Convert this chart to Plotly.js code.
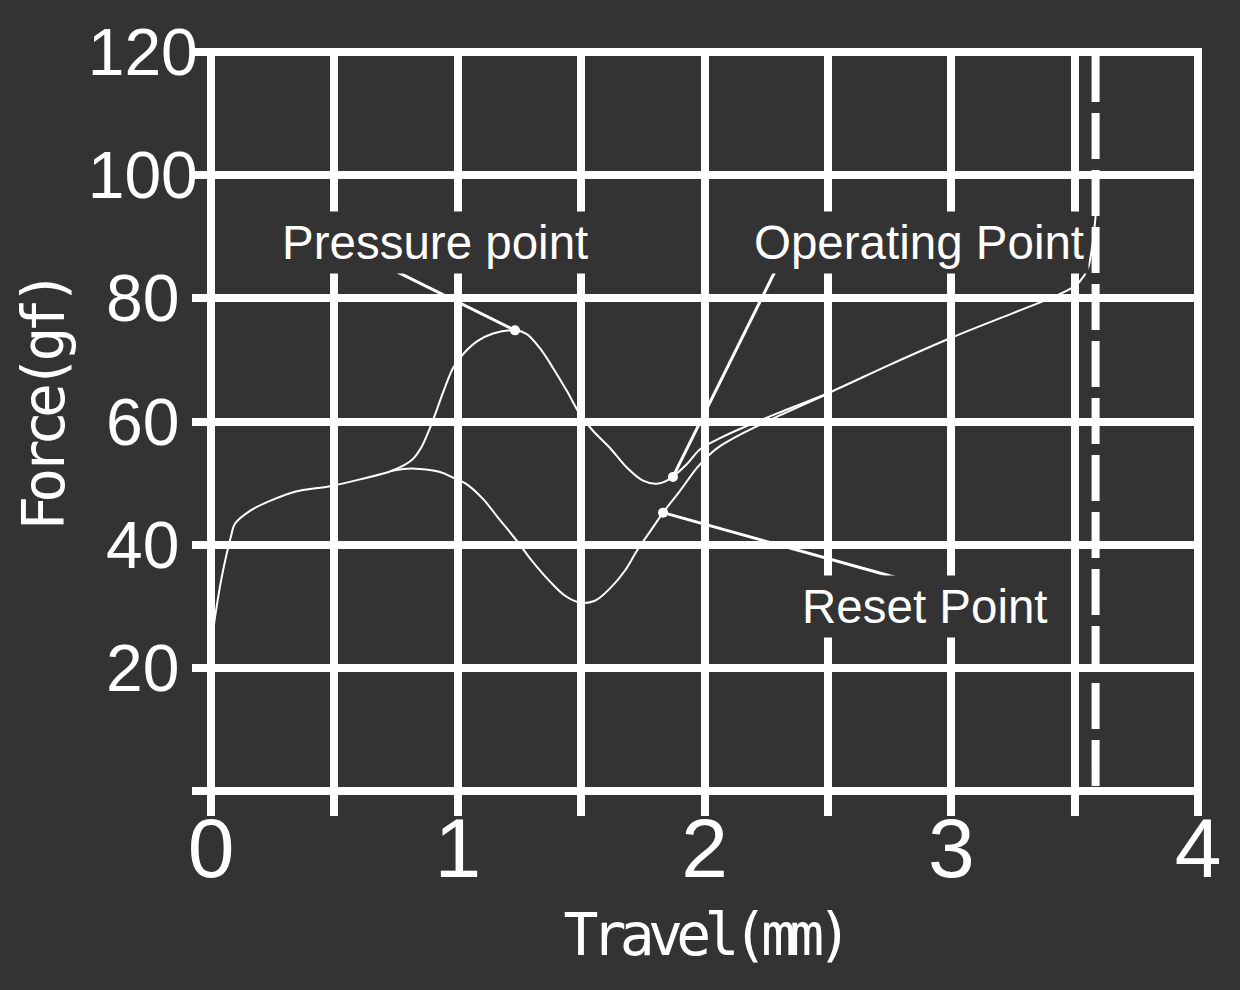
<!DOCTYPE html>
<html>
<head>
<meta charset="utf-8">
<script src="https://cdn.plot.ly/plotly-3.0.1.min.js"></script>
<style>
  html, body { margin: 0; padding: 0; background: #333333; }
  #chart { width: 1240px; height: 990px; }
  .xtitle { letter-spacing: -6.7px; }
  .annotation[data-index="3"] text { letter-spacing: -6.7px; }
</style>
</head>
<body>
<div id="chart"></div>
<script>
// Press (downstroke) curve
const pressTravel = [0.01, 0.04, 0.08, 0.097, 0.158, 0.239, 0.34, 0.482, 0.604, 0.733, 0.815, 0.855, 0.888, 0.915, 0.942, 0.981, 1.021, 1.078, 1.143, 1.232, 1.28, 1.333, 1.386, 1.443, 1.495, 1.548, 1.617, 1.686, 1.751, 1.807, 1.86, 1.929, 1.982, 2.063, 2.15, 2.3, 2.5, 2.75, 3.0, 3.25, 3.4, 3.48, 3.52, 3.554, 3.57, 3.583, 3.59];
const pressForce  = [26.5, 34.0, 41.2, 43.4, 45.5, 47.1, 48.6, 49.5, 50.6, 52.0, 53.8, 56.0, 59.0, 61.9, 64.9, 68.7, 70.9, 73.0, 74.3, 74.8, 74.2, 71.9, 68.7, 64.9, 61.2, 58.5, 55.7, 52.5, 50.4, 49.9, 50.7, 53.1, 55.5, 57.3, 58.9, 61.4, 64.6, 69.2, 73.6, 77.6, 80.0, 81.5, 82.7, 84.9, 88.1, 92.5, 96.0];

// Release (return) curve
const releaseTravel = [0.733, 0.779, 0.847, 0.928, 0.981, 1.037, 1.103, 1.163, 1.24, 1.3, 1.374, 1.435, 1.495, 1.556, 1.617, 1.678, 1.726, 1.791, 1.832, 1.9, 1.97, 2.022, 2.063, 2.15, 2.3, 2.5];
const releaseForce  = [52.0, 52.3, 52.3, 51.8, 50.9, 49.8, 47.4, 44.4, 40.6, 37.4, 34.0, 31.7, 30.6, 30.9, 32.9, 35.8, 39.0, 42.8, 45.2, 48.7, 52.5, 54.7, 56.0, 58.0, 60.9, 64.5];

// Marked points
const pointNames  = ["Pressure point", "Operating Point", "Reset Point"];
const pointTravel = [1.232, 1.872, 1.832];
const pointForce  = [74.8, 51.0, 45.2];
// Label positions (data coords) and leader line start points
const labelTravel = [0.908, 2.869, 2.892];
const labelForce  = [89.0, 89.0, 30.0];
const leaderTravel = [0.644, 2.286, 2.772];
const leaderForce  = [86.5, 84.4, 34.7];

// Total travel marker
const totalTravel = 3.585;

// Axis ticks and titles
const xTickVals = [0, 1, 2, 3, 4];
const xTickText = ["0", "1", "2", "3", "4"];
const yTickVals = [0, 20, 40, 60, 80, 100, 120];
const yTickText = ["", "20\u00A0", "40\u00A0", "60\u00A0", "80\u00A0", "100", "120"];
const xTitle = "Travel(mm)";
const yTitle = "Force(gf)";

const white = "#ffffff";
const bg = "#333333";

const traces = [
  {
    x: pressTravel, y: pressForce, type: "scatter", mode: "lines",
    line: { color: white, width: 2, shape: "spline", smoothing: 0.9 },
    hoverinfo: "skip", showlegend: false
  },
  {
    x: releaseTravel, y: releaseForce, type: "scatter", mode: "lines",
    line: { color: white, width: 2, shape: "spline", smoothing: 1.0 },
    hoverinfo: "skip", showlegend: false
  },
  {
    x: pointTravel, y: pointForce, type: "scatter", mode: "markers",
    marker: { color: white, size: 10 }, text: pointNames,
    hoverinfo: "text", showlegend: false
  }
];

const shapes = [
  {
    type: "rect", xref: "paper", yref: "paper", x0: 0, x1: 1, y0: 0, y1: 1,
    line: { color: white, width: 8 }, fillcolor: "rgba(0,0,0,0)", layer: "above"
  },
  {
    type: "line", xref: "x", yref: "y", x0: totalTravel, x1: totalTravel, y0: 119.35, y1: 0,
    line: { color: white, width: 8, dash: "46px,11px" }, layer: "above"
  }
];
for (let i = 0; i < pointNames.length; i++) {
  shapes.push({
    type: "line", xref: "x", yref: "y",
    x0: leaderTravel[i], y0: leaderForce[i], x1: pointTravel[i], y1: pointForce[i],
    line: { color: white, width: 3 }, layer: "above"
  });
}

const annotations = pointNames.map((name, i) => ({
  x: labelTravel[i], y: labelForce[i], xref: "x", yref: "y",
  text: name, showarrow: false,
  font: { family: "Liberation Sans, Arial, sans-serif", size: 47.5, color: white },
  bgcolor: bg, borderpad: 4
}));
// y-axis title, placed as in the reference
annotations.push({
  x: -0.1692, y: 0.5237, xref: "paper", yref: "paper",
  xanchor: "center", yanchor: "middle", textangle: -90,
  text: yTitle, showarrow: false,
  font: { family: "DejaVu Sans Mono, monospace", size: 58, color: white }
});

const layout = {
  width: 1240, height: 990,
  paper_bgcolor: bg, plot_bgcolor: bg,
  margin: { l: 211, r: 42, t: 52, b: 199 },
  showlegend: false,
  xaxis: {
    range: [0, 4], tickmode: "array", tickvals: xTickVals, ticktext: xTickText,
    showgrid: true, gridcolor: white, gridwidth: 8,
    zeroline: false, showline: false,
    ticks: "outside", ticklen: 24, tickwidth: 8, tickcolor: white,
    ticklabelstandoff: -40,
    tickfont: { family: "Liberation Sans, Arial, sans-serif", size: 84, color: white },
    minor: { dtick: 0.5, showgrid: true, gridcolor: white, gridwidth: 8,
             ticks: "outside", ticklen: 24, tickwidth: 8, tickcolor: white },
    title: { text: xTitle, standoff: 20,
             font: { family: "DejaVu Sans Mono, monospace", size: 58, color: white } },
    automargin: false, fixedrange: true
  },
  yaxis: {
    range: [0, 120], tickmode: "array", tickvals: yTickVals, ticktext: yTickText,
    showgrid: true, gridcolor: white, gridwidth: 8,
    zeroline: false, showline: false,
    ticks: "outside", ticklen: 18, tickwidth: 8, tickcolor: white,
    ticklabelstandoff: -19,
    tickfont: { family: "Liberation Sans, Arial, sans-serif", size: 66, color: white },
    automargin: false, fixedrange: true
  },
  shapes: shapes,
  annotations: annotations
};

Plotly.newPlot("chart", traces, layout, { displayModeBar: false });
</script>
</body>
</html>
